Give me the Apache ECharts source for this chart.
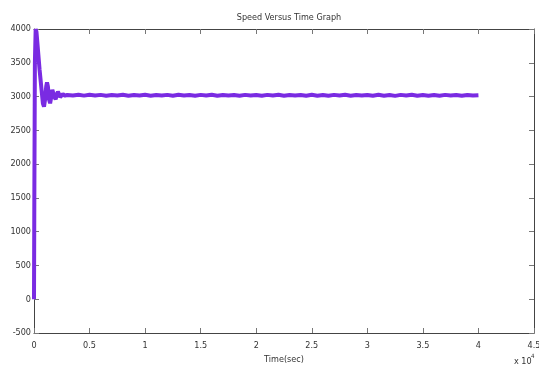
<!DOCTYPE html>
<html>
<head>
<meta charset="utf-8">
<script src="https://cdn.jsdelivr.net/npm/echarts@6/dist/echarts.min.js"></script>
<style>
  html, body { margin: 0; padding: 0; background: #fff; }
  #chart { width: 539px; height: 369px; }
</style>
</head>
<body>
<div id="chart"></div>
<script>
// time in units of 10^4 sec, speed in RPM
const timeValues = [
  0, 0.003, 0.008, 0.015, 0.022, 0.05, 0.08, 0.09, 0.1, 0.11, 0.117, 0.125,
  0.135, 0.145, 0.155, 0.165, 0.175, 0.185, 0.195, 0.205, 0.215, 0.225, 0.235,
  0.245, 0.26, 0.28, 0.3, 0.35, 0.4, 0.45, 0.5, 0.55, 0.6, 0.65, 0.7, 0.75,
  0.8, 0.85, 0.9, 0.95, 1.0, 1.05, 1.1, 1.15, 1.2, 1.25, 1.3, 1.35, 1.4, 1.45,
  1.5, 1.55, 1.6, 1.65, 1.7, 1.75, 1.8, 1.85, 1.9, 1.95, 2.0, 2.05, 2.1, 2.15,
  2.2, 2.25, 2.3, 2.35, 2.4, 2.45, 2.5, 2.55, 2.6, 2.65, 2.7, 2.75, 2.8, 2.85,
  2.9, 2.95, 3.0, 3.05, 3.1, 3.15, 3.2, 3.25, 3.3, 3.35, 3.4, 3.45, 3.5, 3.55,
  3.6, 3.65, 3.7, 3.75, 3.8, 3.85, 3.9, 3.95, 4.0
];
const speedValues = [
  0, 1500, 3500, 4000, 3960, 3400, 2900, 2850, 2960, 3150, 3210, 3150,
  2960, 2900, 2990, 3100, 3090, 2990, 2960, 3030, 3070, 3040, 2990,
  3005, 3035, 3012, 3024, 3016, 3028, 3014, 3026, 3016, 3025, 3012, 3023, 3017,
  3026, 3011, 3024, 3015, 3026, 3013, 3023, 3017, 3025, 3012, 3026, 3016, 3022, 3013,
  3025, 3015, 3026, 3012, 3023, 3017, 3024, 3011, 3025, 3015, 3023, 3012, 3025, 3016,
  3026, 3013, 3023, 3017, 3024, 3012, 3026, 3013, 3023, 3011, 3025, 3015, 3026, 3012,
  3022, 3015, 3024, 3012, 3026, 3013, 3023, 3010, 3025, 3015, 3026, 3011, 3023, 3013,
  3024, 3012, 3025, 3015, 3023, 3011, 3024, 3015, 3020
];
const xTicks = [0, 0.5, 1, 1.5, 2, 2.5, 3, 3.5, 4, 4.5];
const yTicks = [-500, 0, 500, 1000, 1500, 2000, 2500, 3000, 3500, 4000];

const chart = echarts.init(document.getElementById("chart"));
const font = "'Liberation Sans Narrow', 'DejaVu Sans Condensed', 'Liberation Sans', sans-serif";
const axisColor = "#444";

const boxAxis = (extra) => ({
  type: "value",
  axisLine: { show: true, onZero: false, lineStyle: { color: axisColor, width: 1 } },
  axisTick: { show: true, inside: true, length: 5, lineStyle: { color: "#777" } },
  splitLine: { show: false },
  ...extra,
});

const option = {
  animation: false,
  backgroundColor: "#fff",
  title: {
    text: "Speed Versus Time Graph",
    left: 284,
    textAlign: "center",
    top: 8,
    textStyle: { fontFamily: font, fontSize: 9, fontWeight: "normal", color: "#333" },
  },
  grid: { left: 34, right: 5, top: 29, bottom: 36, containLabel: false, outerBoundsMode: "none" },
  xAxis: [
    boxAxis({
      min: xTicks[0],
      max: xTicks[xTicks.length - 1],
      interval: 0.5,
      position: "bottom",
      name: "Time(sec)",
      nameLocation: "middle",
      nameGap: 21,
      nameTextStyle: { fontFamily: font, fontSize: 9, color: "#333" },
      axisLabel: { fontFamily: font, fontSize: 9, color: "#333", margin: 8 },
    }),
    boxAxis({
      min: xTicks[0],
      max: xTicks[xTicks.length - 1],
      interval: 0.5,
      position: "top",
      axisLabel: { show: false },
    }),
  ],
  yAxis: [
    boxAxis({
      min: yTicks[0],
      max: yTicks[yTicks.length - 1],
      interval: 500,
      position: "left",
      name: "Speed(RPM)",
      nameLocation: "middle",
      nameGap: 24,
      nameTextStyle: { fontFamily: font, fontSize: 9, color: "#333" },
      axisLabel: { fontFamily: font, fontSize: 9, color: "#333", margin: 3, formatter: (v) => String(v) },
    }),
    boxAxis({
      min: yTicks[0],
      max: yTicks[yTicks.length - 1],
      interval: 500,
      position: "right",
      axisLabel: { show: false },
    }),
  ],
  graphic: [
    {
      type: "text",
      left: 514,
      top: 357,
      style: { text: "x 10", font: "9px " + font, fill: "#333" },
    },
    {
      type: "text",
      left: 531,
      top: 353,
      style: { text: "4", font: "6px " + font, fill: "#333" },
    },
  ],
  series: [
    {
      type: "line",
      data: timeValues.map((t, i) => [t, speedValues[i]]),
      showSymbol: false,
      lineStyle: { color: "#7A2BE2", width: 4 },
      itemStyle: { color: "#7A2BE2" },
    },
  ],
};

chart.setOption(option);
</script>
</body>
</html>
